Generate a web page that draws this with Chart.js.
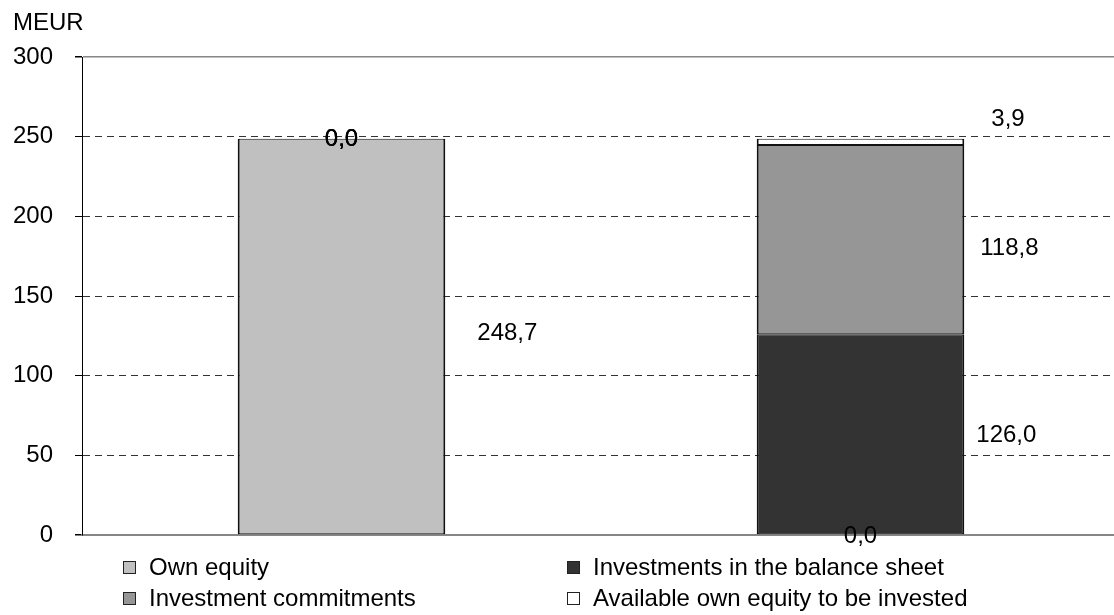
<!DOCTYPE html>
<html>
<head>
<meta charset="utf-8">
<script src="https://cdn.jsdelivr.net/npm/chart.js@4.4.0/dist/chart.umd.min.js"></script>
<style>
  html, body { margin: 0; padding: 0; background: #fff; }
  #wrap { position: relative; width: 1114px; height: 615px; overflow: hidden; }
  #legend { position: absolute; left: 0; top: 0; font-family: "Liberation Sans", Arial, sans-serif; font-size: 24px; color: #000; }
  .item { position: absolute; white-space: nowrap; display: flex; align-items: center; height: 30px; margin-top: -15px; }
  .box { width: 11px; height: 11px; border: 1px solid #222; margin-right: 13px; }
</style>
</head>
<body>
<div id="wrap">
  <!-- plot runs a few px past the right edge of the page -->
  <canvas id="chart" width="1120" height="615"></canvas>
  <div id="legend"></div>
</div>
<script>
// two stacked columns: equity raised vs. how it is used
const categories = ['', ''];
const seriesNames = ['Own equity', 'Investments in the balance sheet', 'Investment commitments', 'Available own equity to be invested'];
const ownEquity = [248.7, 0.0];
const balanceSheetInvestments = [0.0, 126.0];
const investmentCommitments = [0.0, 118.8];
const availableEquity = [0.0, 3.9];
const yTicks = [0, 50, 100, 150, 200, 250, 300];

const seriesColors = ['#C0C0C0', '#333333', '#969696', '#FFFFFF'];
const FONT = '"Liberation Sans", Arial, sans-serif';

// label nudges (px) from the right edge / middle of a segment
const labelNudge = { '0-0': [32, -3], '1-1': [12, 1], '2-1': [16, 9], '3-1': [27, -22] };
// legend item positions: box left, row middle
const legendSpots = [[123, 567], [567, 567], [123, 598], [567, 598]];

const seriesData = [ownEquity, balanceSheetInvestments, investmentCommitments, availableEquity];

const fmt = v => v.toFixed(1).replace('.', ',');
const edge = v => v === yTicks[0] || v === yTicks[yTicks.length - 1];

const valueLabels = {
    id: 'valueLabels',
    afterDatasetsDraw(chart) {
        const ctx = chart.ctx;
        ctx.save();
        ctx.font = '24px ' + FONT;
        ctx.fillStyle = '#000';
        ctx.textBaseline = 'middle';
        chart.data.datasets.forEach((ds, i) => {
            chart.getDatasetMeta(i).data.forEach((bar, j) => {
                const v = ds.data[j];
                if (v === 0) {
                    ctx.textAlign = 'center';
                    ctx.fillText(fmt(v), bar.x, bar.y + 1);
                } else {
                    const n = labelNudge[i + '-' + j] || [12, 0];
                    ctx.textAlign = 'left';
                    ctx.fillText(fmt(v), bar.x + bar.width / 2 + n[0], (bar.y + bar.base) / 2 + n[1]);
                }
            });
        });
        // unit caption above the value axis
        ctx.textAlign = 'left';
        ctx.textBaseline = 'alphabetic';
        ctx.fillText('MEUR', 13, 30);
        ctx.restore();
    }
};

new Chart(document.getElementById('chart'), {
    type: 'bar',
    data: {
        labels: categories,
        datasets: seriesNames.map((name, i) => ({
            label: name,
            data: seriesData[i],
            backgroundColor: seriesColors[i],
            borderColor: '#111',
            borderWidth: { left: 2, right: 2, top: 1, bottom: 1 },
            borderSkipped: false,
            barPercentage: 0.4,
            categoryPercentage: 1.0
        }))
    },
    options: {
        responsive: false,
        animation: false,
        layout: { padding: { top: 57, bottom: 80, left: 0, right: 0 } },
        plugins: {
            legend: { display: false },
            tooltip: { enabled: false }
        },
        scales: {
            x: {
                stacked: true,
                afterFit: s => { s.height = 0; },
                grid: { display: false },
                ticks: { display: false },
                border: { display: true, color: '#868686', width: 2 }
            },
            y: {
                stacked: true,
                min: 0,
                max: 300,
                afterFit: s => { s.width = 82; },
                afterBuildTicks: s => { s.ticks = yTicks.map(v => ({ value: v })); },
                ticks: {
                    color: '#000',
                    padding: 22,
                    font: { family: FONT, size: 24 }
                },
                grid: {
                    color: c => (c.tick && edge(c.tick.value)) ? '#868686' : '#333',
                    lineWidth: c => (c.tick && edge(c.tick.value)) ? 1.5 : 1,
                    tickColor: '#000',
                    tickLength: 7
                },
                border: {
                    display: true,
                    color: '#000',
                    width: 1,
                    dash: c => (c.tick && !edge(c.tick.value)) ? [7, 5] : []
                }
            }
        }
    },
    plugins: [valueLabels]
});

// legend laid out as a 2x2 grid under the plot
const legend = document.getElementById('legend');
seriesNames.forEach((name, i) => {
    const item = document.createElement('div');
    item.className = 'item';
    item.style.left = legendSpots[i][0] + 'px';
    item.style.top = legendSpots[i][1] + 'px';
    item.innerHTML = `<span class="box" style="background:${seriesColors[i]}"></span>${name}`;
    legend.appendChild(item);
});
</script>
</body>
</html>
